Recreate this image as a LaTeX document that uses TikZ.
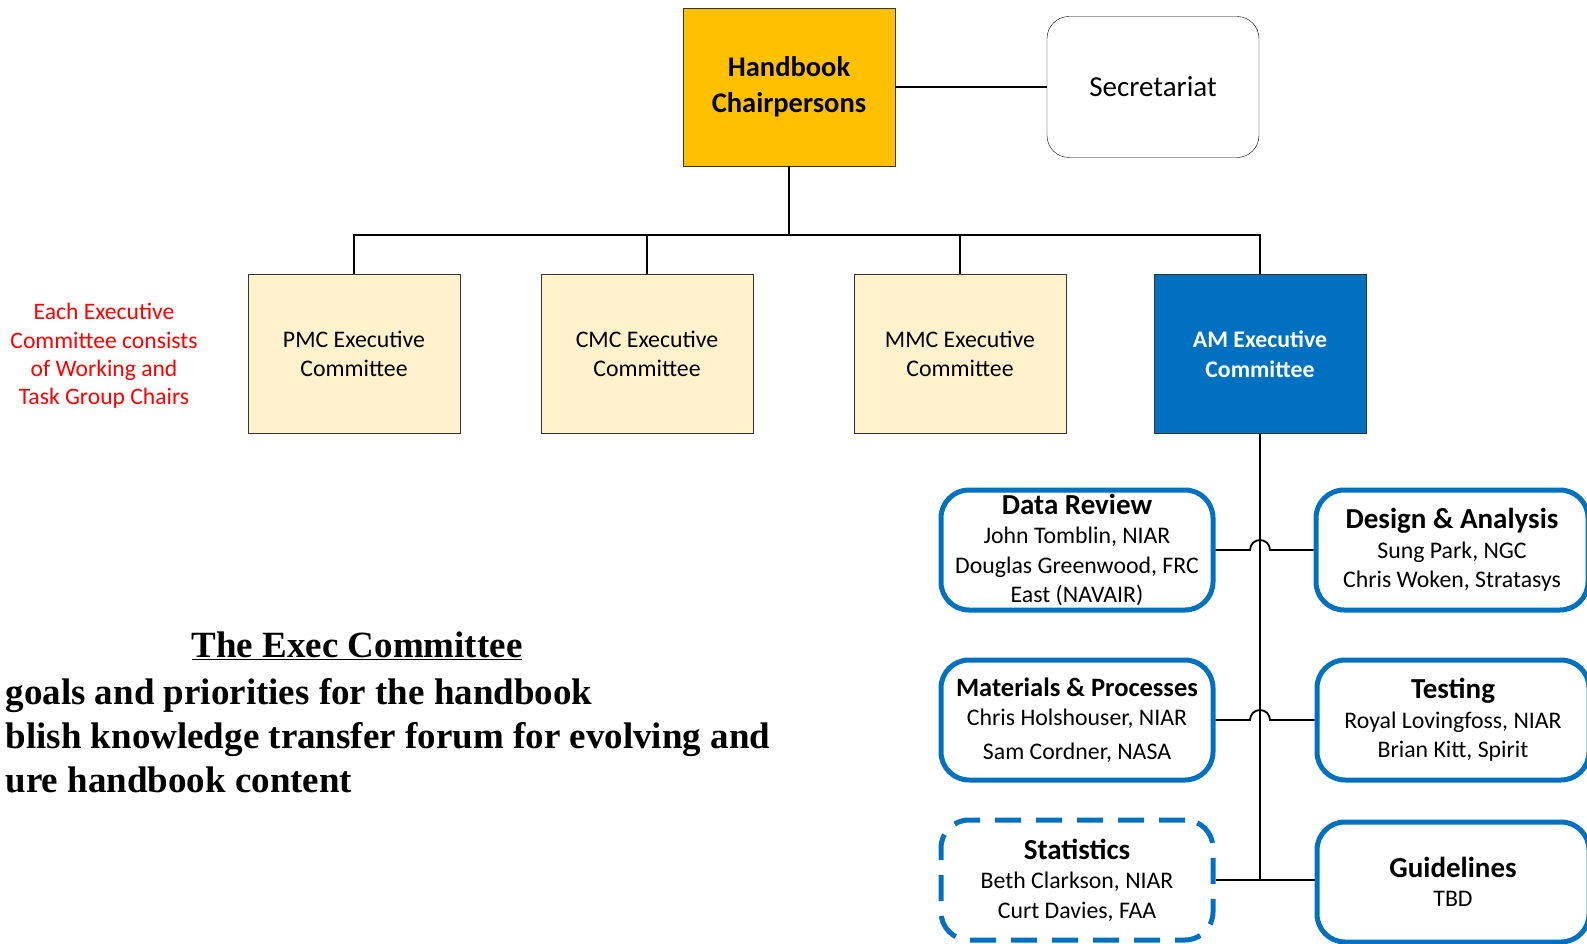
\documentclass[tikz,border=0pt]{standalone}
\usepackage{fontspec}
\setmainfont{Carlito}
\newfontfamily\timesfont{Liberation Serif}
\usetikzlibrary{positioning, calc}
\definecolor{chairgold}{HTML}{FFC000}
\definecolor{execcream}{HTML}{FFF2CC}
\definecolor{amblue}{HTML}{0070C0}

\begin{document}
\begin{tikzpicture}[x=1pt, y=-1pt,
  chair/.style={draw=black!80, fill=chairgold, minimum width=212pt, minimum height=158pt, align=center, font=\fontsize{28.5}{36}\selectfont\bfseries},
  secbox/.style={draw=black, rounded corners=22pt, minimum width=212pt, minimum height=141pt, font=\fontsize{29}{34}\selectfont},
  exec/.style={draw=black!80, fill=execcream, minimum width=212pt, minimum height=159pt, align=center, font=\fontsize{23.8}{29.5}\selectfont},
  amexec/.style={exec, fill=amblue, text=white, font=\fontsize{23.8}{29.5}\selectfont\bfseries},
  group/.style={draw=amblue, line width=5pt, rounded corners=28pt, minimum width=272pt, minimum height=120pt, align=center, font=\fontsize{23.8}{29.5}\selectfont},
  tbdgroup/.style={group, dash pattern=on 26pt off 15pt},
  link/.style={draw=black, line width=1.8pt},
  note/.style={text=red, align=center, font=\fontsize{23.6}{28.3}\selectfont}
]
\useasboundingbox (0,0) rectangle (1587,944);

% Top
\node[chair] (HB) at (789,87) {Handbook\\Chairpersons};
\node[secbox] (SEC) at (1153,87) {Secretariat};
\draw[link] (HB.east) -- (SEC.west);

% Executive committees
\node[exec] (PMC) at (354,354) {PMC Executive\\Committee};
\node[exec] (CMC) at (647,354) {CMC Executive\\Committee};
\node[exec] (MMC) at (960,354) {MMC Executive\\Committee};
\node[amexec] (AM) at (1260,354) {AM Executive\\Committee};
\node[note] (note) at (104,356) {Each Executive\\Committee consists\\of Working and\\Task Group Chairs};

\coordinate (bus) at (789,235);
\draw[link] (HB.south) -- (bus);
\foreach \n in {PMC,CMC,MMC,AM}
  \draw[link] (bus) -| (\n.north);

% AM working groups
\node[group] (DR) at (1077,550) {{\bfseries\fontsize{29}{31}\selectfont Data Review}\\John Tomblin, NIAR\\Douglas Greenwood, FRC\\East (NAVAIR)};
\node[group] (DA) at (1452,550) {{\bfseries\fontsize{29}{31}\selectfont Design \& Analysis}\\Sung Park, NGC\\Chris Woken, Stratasys};
\node[group] (MP) at (1077,720) {{\bfseries\fontsize{26.5}{31}\selectfont Materials \& Processes}\\Chris Holshouser, NIAR\\[4pt]Sam Cordner, NASA};
\node[group] (TS) at (1453,720) {{\bfseries\fontsize{29}{32}\selectfont Testing}\\Royal Lovingfoss, NIAR\\Brian Kitt, Spirit};
\node[tbdgroup] (ST) at (1077,880) {{\bfseries\fontsize{29}{32}\selectfont Statistics}\\Beth Clarkson, NIAR\\Curt Davies, FAA};
\node[group] (GL) at (1453,882) {{\bfseries\fontsize{29}{32}\selectfont Guidelines}\\TBD};

\draw[link] (AM.south) -- (AM.south |- ST.east);
\draw[link] (DR.east) -- ($(DR.east -| AM.south)+(-10,0)$) arc[start angle=180, end angle=0, radius=10pt] -- (DA.west);
\draw[link] (MP.east) -- ($(MP.east -| AM.south)+(-10,0)$) arc[start angle=180, end angle=0, radius=10pt] -- (TS.west);
\draw[link] (ST.east) -- (ST.east -| GL.west);

% Exec committee role
\node[font=\timesfont\bfseries\fontsize{37}{44}\selectfont] (title) at (357,646) {\underline{The Exec Committee}};
\node[anchor=west, align=left, font=\timesfont\bfseries\fontsize{37}{44}\selectfont] (goals) at (2,736) {goals and priorities for the handbook\\blish knowledge transfer forum for evolving and\\ure handbook content};
\end{tikzpicture}
\end{document}
